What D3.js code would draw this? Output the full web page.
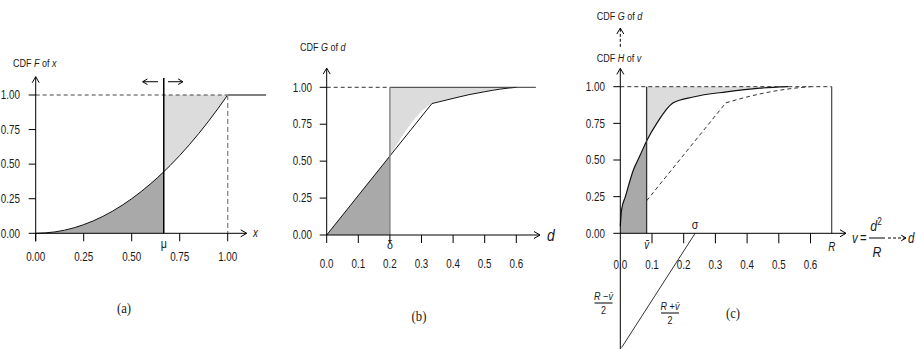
<!DOCTYPE html>
<html>
<head>
<meta charset="utf-8">
<script src="https://cdn.jsdelivr.net/npm/d3@7"></script>
<style>
  body { margin: 0; background: #fff; }
  text { font-family: 'Liberation Sans', Arial, sans-serif; fill: #1a1a1a; }
  .serif { font-family: 'Liberation Serif', serif; }
</style>
</head>
<body>
<svg id="chart"></svg>
<script>
// --- data ---
// (a) CDF F of x
const aX = [0, 0.1, 0.2, 0.3, 0.4, 0.5, 0.6, 0.667, 0.7, 0.8, 0.9, 1.0];
const aF = [0, 0.01, 0.04, 0.09, 0.16, 0.25, 0.36, 0.445, 0.49, 0.64, 0.81, 1.0];
const aMu = 0.667;
const aTicksX = [0, 0.25, 0.5, 0.75, 1.0];
const aTicksY = [0, 0.25, 0.5, 0.75, 1.0];

// (b) CDF G of d
const bD = [0, 0.2, 0.333, 0.4, 0.45, 0.5, 0.55, 0.6];
const bG = [0, 0.535, 0.89, 0.925, 0.95, 0.97, 0.988, 1.0];
const bDelta = 0.2;
const bTicksX = [0, 0.1, 0.2, 0.3, 0.4, 0.5, 0.6];
const bTicksY = [0, 0.25, 0.5, 0.75, 1.0];

// (c) CDF H of v (solid) and G of d (dashed)
const cV = [0, 0.004, 0.016, 0.041, 0.062, 0.083, 0.115, 0.167, 0.23, 0.335, 0.44, 0.53];
const cH = [0.05, 0.16, 0.25, 0.43, 0.53, 0.63, 0.75, 0.89, 0.93, 0.965, 0.99, 1.0];
const cD = [0.083, 0.2, 0.333, 0.4, 0.45, 0.5, 0.55, 0.6];
const cG = [0.222, 0.535, 0.89, 0.93, 0.955, 0.975, 0.99, 1.0];
const cVbar = 0.083;
const cR = 0.667;
const cSigma = 0.236;
const cSigmaLow = -0.78;
const cTicksX = [0.1, 0.2, 0.3, 0.4, 0.5, 0.6];
const cTickLabels = [0, 0.1, 0.2, 0.3, 0.4, 0.5, 0.6];
const cTicksY = [0, 0.25, 0.5, 0.75, 1.0];

const W = 916, H = 349;
const DARK = '#a9a9a9', LIGHT = '#dcdcdc';
const SX = 0.82; // narrow the sans face, the figure uses a condensed font

const svg = d3.select('#chart').attr('width', W).attr('height', H);
svg.append('rect').attr('width', W).attr('height', H).attr('fill', '#fff');

const pts = (xs, ys) => xs.map((x, i) => [x, ys[i]]);

function hline(g, x0, x1, y, style) {
  return g.append('line').attr('x1', x0).attr('x2', x1).attr('y1', y).attr('y2', y)
    .attr('stroke', style.stroke || '#000').attr('stroke-width', style.w || 1)
    .attr('stroke-dasharray', style.dash || null);
}
function vline(g, x, y0, y1, style) {
  return g.append('line').attr('x1', x).attr('x2', x).attr('y1', y0).attr('y2', y1)
    .attr('stroke', style.stroke || '#000').attr('stroke-width', style.w || 1)
    .attr('stroke-dasharray', style.dash || null);
}
// open chevron arrow head, dir: 'up' | 'right' | 'left'
function head(g, x, y, dir, s = 5) {
  let p;
  if (dir === 'up') p = [[x - s * 0.7, y + s * 1.2], [x, y], [x + s * 0.7, y + s * 1.2]];
  else if (dir === 'right') p = [[x - s * 1.2, y - s * 0.7], [x, y], [x - s * 1.2, y + s * 0.7]];
  else p = [[x + s * 1.2, y - s * 0.7], [x, y], [x + s * 1.2, y + s * 0.7]];
  g.append('polyline').attr('points', p.map(d => d.join(',')).join(' '))
    .attr('fill', 'none').attr('stroke', '#000').attr('stroke-width', 1);
}
// text placed with a horizontal squeeze
function txt(g, x, y, s, size, o = {}) {
  const t = g.append('text')
    .attr('transform', `translate(${x},${y}) scale(${o.sx || SX},1)`)
    .attr('font-size', size)
    .attr('text-anchor', o.anchor || 'start')
    .attr('dy', o.dy || null)
    .attr('font-style', o.italic ? 'italic' : null);
  if (o.cls) t.attr('class', o.cls);
  if (s != null) t.text(s);
  return t;
}
function title(g, x, y, parts) {
  const t = txt(g, x, y, null, 11);
  parts.forEach(p => t.append('tspan').text(p[0]).attr('font-style', p[1] ? 'italic' : null));
}
function yTicks(g, x, y, ticks, labelX, fmt) {
  ticks.forEach(t => {
    hline(g, x(0) - 7, x(0), y(t), { stroke: '#000' });
    txt(g, labelX, y(t), fmt(t), 12, { anchor: 'end', dy: '0.35em' });
  });
}

// ================= (a) =================
{
  const g = svg.append('g');
  const x = d3.scaleLinear([0, 1], [35.7, 227.7]);
  const y = d3.scaleLinear([0, 1], [233.3, 95]);
  const data = pts(aX, aF);
  const left = data.filter(d => d[0] <= aMu);
  const right = data.filter(d => d[0] >= aMu);

  g.append('path').datum(left)
    .attr('d', d3.area().x(d => x(d[0])).y0(y(0)).y1(d => y(d[1])).curve(d3.curveMonotoneX))
    .attr('fill', DARK);
  g.append('path').datum(right)
    .attr('d', d3.area().x(d => x(d[0])).y0(y(1)).y1(d => y(d[1])).curve(d3.curveMonotoneX))
    .attr('fill', LIGHT);
  g.append('path').datum(data)
    .attr('d', d3.line().x(d => x(d[0])).y(d => y(d[1])).curve(d3.curveMonotoneX))
    .attr('fill', 'none').attr('stroke', '#111').attr('stroke-width', 1);

  hline(g, x(0), x(1), y(1), { stroke: '#444', dash: '4,3' });
  hline(g, x(1), x(1.2), y(1), { stroke: '#555', w: 1.3 });
  vline(g, x(1), y(1), y(0), { stroke: '#888', w: 1.3, dash: '5,3' });
  vline(g, x(aMu), y(1.123), y(0), { stroke: '#000', w: 1.5 });
  // shifting arrows over mu
  hline(g, x(0.637), x(0.557), y(1.096), { stroke: '#000' });
  head(g, x(0.557), y(1.096), 'left', 4);
  hline(g, x(0.689), x(0.767), y(1.096), { stroke: '#000' });
  head(g, x(0.767), y(1.096), 'right', 4);

  // axes
  hline(g, x(0), x(1.099), y(0), { stroke: '#000' });
  head(g, x(1.099), y(0), 'right');
  vline(g, x(0), y(0) + 8, y(1.132), { stroke: '#000' });
  head(g, x(0), y(1.132), 'up');
  aTicksX.forEach(t => {
    vline(g, x(t), y(0), y(0) + 8, { stroke: '#000' });
    txt(g, x(t), 261, d3.format('.2f')(t), 12, { anchor: 'middle' });
  });
  yTicks(g, x, y, aTicksY, 20, d3.format('.2f'));

  txt(g, x(aMu), 248, 'μ', 13, { anchor: 'middle' });
  txt(g, 253, 237, 'x', 12, { italic: true });
  title(g, 13, 67, [['CDF ', false], ['F', true], [' of ', false], ['x', true]]);
  txt(g, 124, 313, '(a)', 15, { anchor: 'middle', cls: 'serif', sx: 0.85 });
}

// ================= (b) =================
{
  const g = svg.append('g');
  const x = d3.scaleLinear([0, 0.6], [326.7, 516.3]);
  const y = d3.scaleLinear([0, 1], [235, 87.3]);
  const data = pts(bD, bG);
  const left = data.filter(d => d[0] <= bDelta);
  const right = data.filter(d => d[0] >= bDelta);

  g.append('path').datum(left)
    .attr('d', d3.area().x(d => x(d[0])).y0(y(0)).y1(d => y(d[1])))
    .attr('fill', DARK);
  g.append('path').datum(right)
    .attr('d', d3.area().x(d => x(d[0])).y0(y(1)).y1(d => y(d[1])).curve(d3.curveMonotoneX))
    .attr('fill', LIGHT);
  g.append('path').datum(left.concat(right.slice(1, 2)))
    .attr('d', d3.line().x(d => x(d[0])).y(d => y(d[1])))
    .attr('fill', 'none').attr('stroke', '#111');
  g.append('path').datum(right.slice(1))
    .attr('d', d3.line().x(d => x(d[0])).y(d => y(d[1])).curve(d3.curveMonotoneX))
    .attr('fill', 'none').attr('stroke', '#111');

  hline(g, x(0), x(bDelta), y(1), { stroke: '#333', dash: '4,3' });
  hline(g, x(bDelta), x(0.662), y(1), { stroke: '#333' });
  vline(g, x(bDelta), y(1), y(0), { stroke: '#888', w: 1.5 });

  hline(g, x(0), x(0.675), y(0), { stroke: '#000' });
  head(g, x(0.675), y(0), 'right');
  vline(g, x(0), y(0), y(1.13), { stroke: '#000' });
  head(g, x(0), y(1.13), 'up');
  bTicksX.forEach(t => {
    vline(g, x(t), y(0), y(0) + 8, { stroke: '#000' });
    txt(g, x(t), 268, d3.format('.1f')(t), 12, { anchor: 'middle' });
  });
  yTicks(g, x, y, bTicksY, 312, d3.format('.2f'));

  txt(g, x(bDelta), 249, 'δ', 13, { anchor: 'middle' });
  txt(g, 547, 241, 'd', 17, { italic: true });
  title(g, 300, 51, [['CDF ', false], ['G', true], [' of ', false], ['d', true]]);
  txt(g, 419, 321, '(b)', 15, { anchor: 'middle', cls: 'serif', sx: 0.85 });
}

// ================= (c) =================
{
  const g = svg.append('g');
  const x = d3.scaleLinear([0, 0.6], [620.3, 810.5]);
  const y = d3.scaleLinear([0, 1], [233.3, 86.7]);
  const hData = pts(cV, cH);
  const gData = pts(cD, cG);
  const left = hData.filter(d => d[0] <= cVbar);
  const right = hData.filter(d => d[0] >= cVbar);

  g.append('path').datum(left)
    .attr('d', d3.area().x(d => x(d[0])).y0(y(0)).y1(d => y(d[1])).curve(d3.curveMonotoneX))
    .attr('fill', DARK);
  g.append('path').datum(right)
    .attr('d', d3.area().x(d => x(d[0])).y0(y(1)).y1(d => y(d[1])).curve(d3.curveMonotoneX))
    .attr('fill', LIGHT);
  g.append('path').datum(hData)
    .attr('d', d3.line().x(d => x(d[0])).y(d => y(d[1])).curve(d3.curveMonotoneX))
    .attr('fill', 'none').attr('stroke', '#111').attr('stroke-width', 1.2);
  g.append('path').datum(gData.slice(0, 3))
    .attr('d', d3.line().x(d => x(d[0])).y(d => y(d[1])))
    .attr('fill', 'none').attr('stroke', '#333').attr('stroke-dasharray', '4,3');
  g.append('path').datum(gData.slice(2))
    .attr('d', d3.line().x(d => x(d[0])).y(d => y(d[1])).curve(d3.curveMonotoneX))
    .attr('fill', 'none').attr('stroke', '#333').attr('stroke-dasharray', '4,3');

  hline(g, x(0), x(cR), y(1), { stroke: '#333', dash: '4,3' });
  vline(g, x(cR), y(1), y(0), { stroke: '#222' });
  vline(g, x(cVbar), y(1), y(0), { stroke: '#333', w: 1.3 });

  // sigma construction line below the axis
  g.append('line').attr('x1', x(cSigma)).attr('y1', y(0))
    .attr('x2', x(0.004)).attr('y2', y(cSigmaLow)).attr('stroke', '#333');

  hline(g, x(0), x(0.712), y(0), { stroke: '#000' });
  head(g, x(0.712), y(0), 'right');
  vline(g, x(0), y(cSigmaLow - 0.02), y(1.125), { stroke: '#000' });
  head(g, x(0), y(1.125), 'up');
  // dashed link up to CDF G of d
  vline(g, x(0), y(1.272), y(1.4), { stroke: '#000', dash: '3,2' });
  head(g, x(0), y(1.4), 'up');

  cTicksX.forEach(t => vline(g, x(t), y(0), y(0) + 10, { stroke: '#000' }));
  cTickLabels.forEach(t => txt(g, x(t), 269, d3.format('.1f')(t), 12, { anchor: 'middle' }));
  yTicks(g, x, y, cTicksY, 605, d3.format('.2f'));

  txt(g, x(cVbar), 249, 'v\u0304', 12, { anchor: 'middle', italic: true });
  txt(g, x(cR), 251, 'R', 12, { anchor: 'middle', italic: true });
  txt(g, x(cSigma), 229, 'σ', 13, { anchor: 'middle' });

  // axis label v = d^2 / R ---> d
  const vt = txt(g, 852, 243, 'v', 14, { italic: true });
  vt.append('tspan').attr('font-style', 'normal').text('\u2009=');
  const dt = txt(g, 876, 231, 'd', 15, { anchor: 'middle', italic: true });
  dt.append('tspan').attr('font-size', 10).attr('dy', -6).attr('font-style', 'normal').text('2');
  hline(g, 869, 885, 238, { stroke: '#000' });
  txt(g, 877, 257, 'R', 15, { anchor: 'middle', italic: true });
  hline(g, 888, 906, 238, { stroke: '#000', dash: '3,2' });
  head(g, 906, 238, 'right', 4);
  txt(g, 908, 243, 'd', 14, { italic: true });

  // fractions (R - v̄)/2 and (R + v̄)/2
  function frac(cx, ny, sign) {
    const t = txt(g, cx, ny, null, 11, { anchor: 'middle' });
    t.append('tspan').attr('font-style', 'italic').text('R');
    t.append('tspan').text(' ' + sign);
    t.append('tspan').attr('font-style', 'italic').text('v\u0304');
    hline(g, cx - 9, cx + 9, ny + 3, { stroke: '#000' });
    txt(g, cx, ny + 14, '2', 11, { anchor: 'middle' });
  }
  frac(603.5, 300, '\u2212');
  frac(670, 310, '+');

  title(g, 596.7, 20, [['CDF ', false], ['G', true], [' of ', false], ['d', true]]);
  title(g, 596.7, 62, [['CDF ', false], ['H', true], [' of ', false], ['v', true]]);
  txt(g, 733, 318, '(c)', 15, { anchor: 'middle', cls: 'serif', sx: 0.85 });
}
</script>
</body>
</html>
